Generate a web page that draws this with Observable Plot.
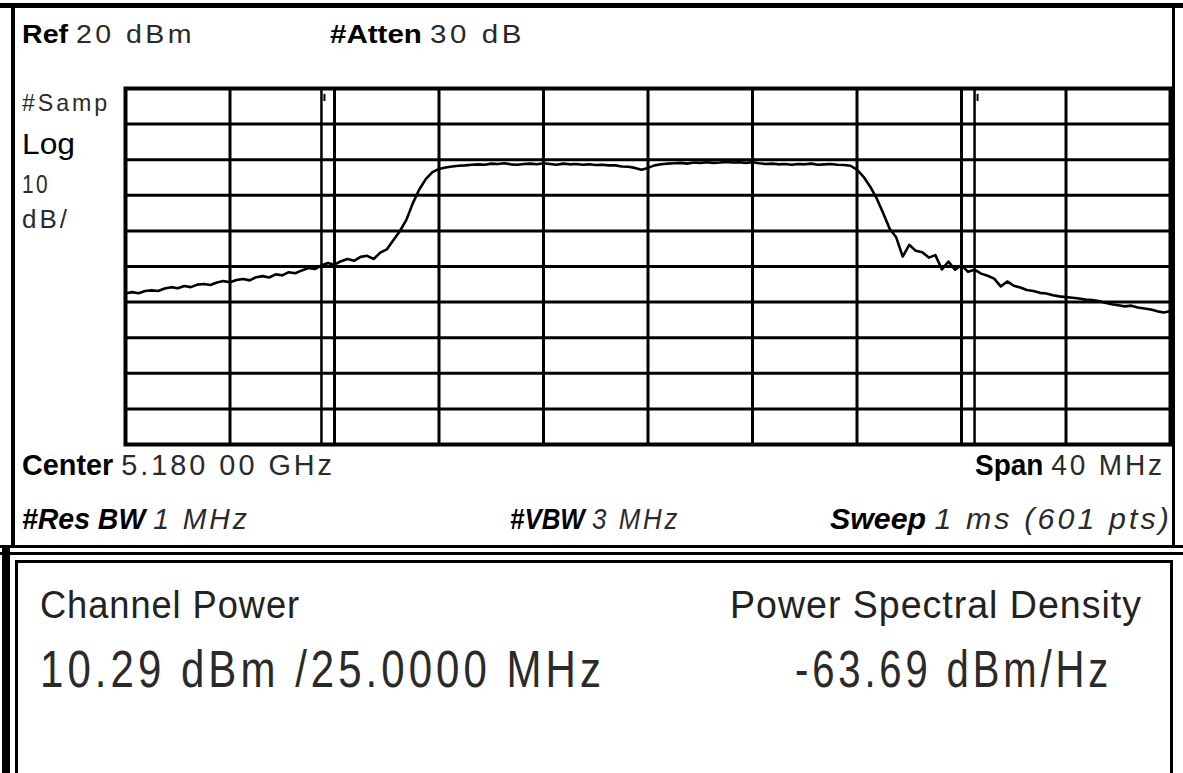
<!DOCTYPE html>
<html>
<head>
<meta charset="utf-8">
<script src="https://cdn.jsdelivr.net/npm/d3@7"></script>
<script src="https://cdn.jsdelivr.net/npm/@observablehq/plot@0.6"></script>
<style>
  html, body { margin: 0; padding: 0; background: #fff; }
  #page { position: relative; width: 1183px; height: 773px; overflow: hidden; background: #fff;
          font-family: "Liberation Sans", Arial, sans-serif; color: #111; }
  .abs { position: absolute; white-space: nowrap; line-height: 1; transform-origin: 0 0; }
  .b { font-weight: bold; color: #000; }
  .v { font-weight: normal; color: #2a2a2a; letter-spacing: 3px; }
  .bar { position: absolute; background: #000; }
  #chart { position: absolute; left: 0; top: 0; }
</style>
</head>
<body>
<div id="page">
  <!-- outer frame lines -->
  <div class="bar" style="left:0;top:3px;width:1183px;height:5px;"></div>
  <div class="bar" style="left:11px;top:8px;width:4px;height:540px;"></div>
  <div class="bar" style="left:1172px;top:8px;width:3px;height:540px;"></div>
  <div class="bar" style="left:0;top:545px;width:1183px;height:3px;"></div>
  <div class="bar" style="left:0;top:552px;width:1183px;height:3px;"></div>
  <div class="bar" style="left:2px;top:548px;width:8px;height:225px;"></div>
  <div class="bar" style="left:15px;top:560px;width:3px;height:213px;"></div>
  <div class="bar" style="left:15px;top:560px;width:1158px;height:3px;"></div>
  <div class="bar" style="left:1170px;top:560px;width:3px;height:213px;"></div>

  <div id="chart"></div>

  <!-- header annotations (data-w = width to fit) -->
  <div class="abs fit" data-w="173" style="left:22px;top:22px;font-size:25px;"><span class="b">Ref</span> <span class="v">20 dBm</span></div>
  <div class="abs fit" data-w="195" style="left:330px;top:22px;font-size:25px;"><span class="b">#Atten</span> <span class="v">30 dB</span></div>
  <div class="abs fit v" data-w="88" style="left:22px;top:91px;font-size:24px;">#Samp</div>
  <div class="abs fit" data-w="53" style="left:22px;top:130px;font-size:29px;color:#000;">Log</div>
  <div class="abs fit v" data-w="28" style="left:22px;top:171px;font-size:26px;">10</div>
  <div class="abs fit v" data-w="48" style="left:22px;top:206px;font-size:26px;">dB/</div>

  <div class="abs fit" data-w="313" style="left:22px;top:451px;font-size:29px;"><span class="b">Center</span> <span class="v">5.180 00 GHz</span></div>
  <div class="abs fit" data-w="190" style="left:975px;top:451px;font-size:29px;"><span class="b">Span</span> <span class="v">40 MHz</span></div>
  <div class="abs fit" data-w="228" style="left:22px;top:505px;font-size:29px;font-style:italic;"><span class="b">#Res BW</span> <span class="v">1 MHz</span></div>
  <div class="abs fit" data-w="170" style="left:510px;top:505px;font-size:29px;font-style:italic;"><span class="b">#VBW</span> <span class="v">3 MHz</span></div>
  <div class="abs fit" data-w="342" style="left:830px;top:505px;font-size:29px;font-style:italic;"><span class="b">Sweep</span> <span class="v">1 ms (601 pts)</span></div>

  <!-- measurement panel -->
  <div class="abs fit" data-w="260" style="left:40px;top:586px;font-size:38px;color:#222;letter-spacing:1px;">Channel Power</div>
  <div class="abs fit" data-w="412" style="left:730px;top:586px;font-size:38px;color:#222;letter-spacing:1px;">Power Spectral Density</div>
  <div class="abs fit" data-w="565" style="left:40px;top:643px;font-size:52px;color:#2a2a2a;letter-spacing:5px;">10.29 dBm /25.0000 MHz</div>
  <div class="abs fit" data-w="317" style="left:795px;top:643px;font-size:52px;color:#2a2a2a;letter-spacing:5px;">-63.69 dBm/Hz</div>
</div>

<script>
// Sweep: center 5180 MHz, span 40 MHz, read every 0.25 MHz from the trace
const startMHz = 5160;
const stepMHz = 0.25;
const levelsDbm = [
  -37.6, -37.2, -37.5, -36.9,
  -36.7, -36.9, -36.2, -35.8,
  -36.1, -35.5, -35.8, -35.1,
  -34.9, -35.2, -34.5, -34.1,
  -34.4, -33.8, -33.5, -33.9,
  -33.0, -32.7, -33.1, -32.2,
  -32.5, -31.6, -31.9, -31.1,
  -30.4, -30.7, -29.7, -29.0,
  -29.5, -28.5, -27.9, -28.4,
  -27.3, -27.0, -27.9, -26.1,
  -25.2, -22.6, -20.1, -16.9,
  -12.2, -8.3, -5.4, -3.5,
  -2.6, -2.2, -1.9, -1.7,
  -1.6, -1.4, -1.3, -1.4,
  -1.1, -1.2, -1.0, -1.3,
  -1.4, -1.2, -1.1, -1.3,
  -1.0, -1.2, -1.4, -1.1,
  -1.3, -1.2, -1.4, -1.3,
  -1.5, -1.4, -1.6, -1.6,
  -1.9, -2.0, -2.3, -2.8,
  -2.3, -1.6, -1.3, -1.1,
  -1.0, -0.9, -1.1, -0.8,
  -0.9, -0.7, -0.9, -0.8,
  -0.6, -0.8, -0.7, -0.9,
  -0.7, -1.0, -1.2, -1.1,
  -1.3, -1.2, -1.4, -1.2,
  -1.3, -1.1, -1.4, -1.3,
  -1.2, -1.4, -1.5, -1.7,
  -2.8, -4.8, -7.5, -10.8,
  -15.0, -19.4, -21.8, -27.2,
  -23.9, -25.6, -26.0, -27.5,
  -26.8, -30.8, -28.6, -30.9,
  -29.6, -31.5, -30.9, -32.0,
  -32.6, -33.4, -35.6, -34.2,
  -35.4, -35.9, -36.6, -36.9,
  -37.4, -37.6, -38.1, -38.4,
  -38.6, -38.8, -39.0, -39.3,
  -39.4, -39.7, -40.2, -40.6,
  -40.9, -41.2, -41.0, -41.5,
  -41.8, -42.1, -42.6, -42.9,
  -42.5
];
// Grid divisions: 10 horizontal (4 MHz/div), 10 vertical (10 dB/div)
const xDivMHz = [5160, 5164, 5168, 5172, 5176, 5180, 5184, 5188, 5192, 5196, 5200];
const yDivDbm = [20, 10, 0, -10, -20, -30, -40, -50, -60, -70, -80];
// Channel power integration edges (25 MHz around center)
const channelEdgesMHz = [5167.5, 5192.5];

const trace = levelsDbm.map((v, i) => ({f: startMHz + i * stepMHz, p: v}));
const edgeFlags = channelEdgesMHz.map(f => ({f}));

const chart = Plot.plot({
  width: 1183,
  height: 460,
  marginLeft: 125,
  marginRight: 13,
  marginTop: 88,
  marginBottom: 16,
  x: {type: "linear", domain: [5160, 5200], axis: null},
  y: {type: "linear", domain: [-80, 20], axis: null},
  style: {background: "transparent"},
  marks: [
    Plot.ruleX(xDivMHz, {stroke: "#000", strokeWidth: 3}),
    Plot.ruleY(yDivDbm, {stroke: "#000", strokeWidth: 3}),
    Plot.ruleX(channelEdgesMHz, {stroke: "#000", strokeWidth: 2.5}),
    Plot.link(edgeFlags, {x1: "f", x2: "f", y1: 18.5, y2: 16.5, stroke: "#000", strokeWidth: 2, dx: 3}),
    Plot.line(trace, {x: "f", y: "p", stroke: "#000", strokeWidth: 2.6}),
    Plot.frame({stroke: "#000", strokeWidth: 4})
  ]
});
document.getElementById("chart").appendChild(chart);

// Fit each annotation to its width in the reference (narrow instrument font)
document.querySelectorAll(".fit").forEach(el => {
  const w = el.getBoundingClientRect().width;
  const target = +el.dataset.w;
  if (w > 0) el.style.transform = `scaleX(${target / w})`;
});
</script>
</body>
</html>
